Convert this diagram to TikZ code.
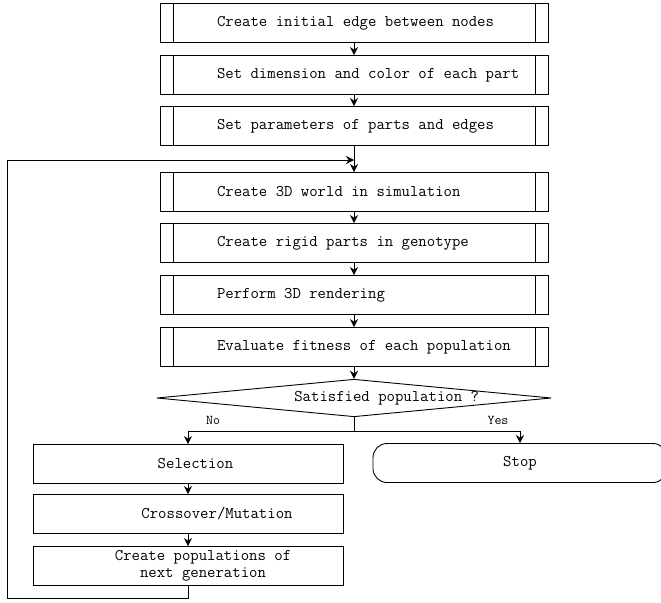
\documentclass[tikz,border=0pt]{standalone}
\usepackage{fontspec}
\usetikzlibrary{shapes.geometric,arrows.meta}
\newcommand{\lft}[1]{\makebox[274bp][l]{#1}}
\tikzset{
    AR/.style ={-{Stealth[length=8bp,width=8bp]}},
    PR/.style ={rectangle, draw, minimum width=388bp, minimum height=39bp, inner xsep=57bp, inner ysep=0pt,
        path picture={\draw ([xshift=13bp]path picture bounding box.north west) -- ([xshift=13bp]path picture bounding box.south west);
                      \draw ([xshift=-13bp]path picture bounding box.north east) -- ([xshift=-13bp]path picture bounding box.south east);}},
    DI/.style ={diamond, draw, aspect=10.5, inner sep=0pt, minimum width=388bp, minimum height=37bp},
    BX/.style ={rectangle, draw, minimum width=310bp, minimum height=39bp, inner sep=1bp, align=center},
    TE/.style ={rectangle, draw, rounded corners=14bp, minimum width=294bp, minimum height=39bp},
    YN/.style ={font=\ttfamily\fontsize{13.5bp}{15bp}\selectfont}}

\begin{document}
\begin{tikzpicture}[x=1bp,y=-1bp,line width=.9bp,
    every node/.style={font=\ttfamily\fontsize{16.3bp}{17bp}\selectfont}]
        \useasboundingbox (0,0) rectangle (661,603);
        \clip (0,0) rectangle (661,603);
        % main column
        \node[PR] (b1) at (354,23)  {\lft{Create initial edge between nodes}};
        \node[PR] (b2) at (354,75)  {\lft{Set dimension and color of each part}};
        \node[PR] (b3) at (354,126) {\lft{Set parameters of parts and edges}};
        \node[PR] (b4) at (354,192) {\lft{Create 3D world in simulation}};
        \node[PR] (b5) at (354,243) {\lft{Create rigid parts in genotype}};
        \node[PR] (b6) at (354,295) {\lft{Perform 3D rendering}};
        \node[PR] (b7) at (354,347) {\lft{Evaluate fitness of each population}};
        \foreach \i/\j in {1/2,2/3,3/4,4/5,5/6,6/7}{
            \draw[AR] (b\i) -- (b\j);}
        \node[DI] (dec) at (354,398) {\makebox[250bp][r]{Satisfied population ?}};
        \draw[AR] (b7) -- (dec);
        % branches
        \node[BX] (sel) at (188,464) {\hspace*{15bp}Selection};
        \node[BX] (crs) at (188,514) {\hspace*{58bp}Crossover/Mutation};
        \node[BX] (pop) at (188,566) {\hspace*{30bp}Create populations of\\\hspace*{30bp}next generation};
        \node[TE] (stp) at (520,463) {Stop};
        \coordinate (br) at (354,431);
        \draw (dec.south) -- (br);
        \draw[AR] (br) -| (sel.north);
        \draw[AR] (br) -| (stp.north);
        \node[YN] (no) at (213,420) {No};
        \node[YN] (yes) at (498,420) {Yes};
        \draw[AR] (sel) -- (crs);
        \draw[AR] (crs) -- (pop);
        % loop back
        \coordinate (lp1) at (7,598);
        \coordinate (lp2) at (7,160);
        \coordinate (mrg) at (354,160);
        \draw[AR] (pop.south) |- (lp1) -- (lp2) -- (mrg);
\end{tikzpicture}
\end{document}
